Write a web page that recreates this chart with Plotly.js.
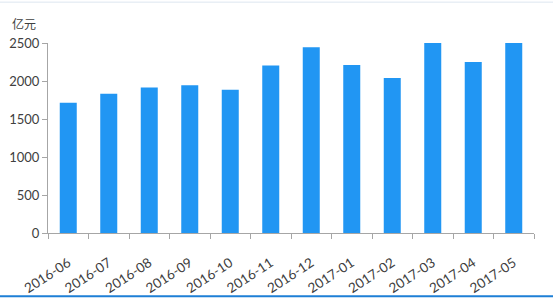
<!DOCTYPE html>
<html>
<head>
<meta charset="utf-8">
<script src="https://cdn.plot.ly/plotly-3.0.1.min.js"></script>
<style>html,body{margin:0;padding:0;background:#fff;}#chart{width:553px;height:298px;}</style>
</head>
<body>
<div id="chart"></div>
<script>
const months = ["2016-06","2016-07","2016-08","2016-09","2016-10","2016-11","2016-12","2017-01","2017-02","2017-03","2017-04","2017-05"];
const amounts = [1715, 1832, 1915, 1945, 1885, 2205, 2445, 2210, 2040, 2510, 2250, 2500];
const yTicks = [0, 500, 1000, 1500, 2000, 2500];
const unitLabel = "亿元";

const data = [{
  type: "bar",
  x: months,
  y: amounts,
  marker: {color: "#2196f3"},
  hoverinfo: "x+y"
}];

const layout = {
  width: 553, height: 298,
  margin: {l: 48, r: 19, t: 43, b: 65},
  paper_bgcolor: "#ffffff",
  plot_bgcolor: "#ffffff",
  showlegend: false,
  bargap: 0.58,
  font: {family: "Lato, 'Noto Sans CJK SC', sans-serif", size: 13, color: "#404040"},
  xaxis: {
    type: "category",
    showgrid: false,
    showline: true, linecolor: "#a6a6a6", linewidth: 1,
    ticks: "outside", tickson: "boundaries", ticklen: 5, tickcolor: "#a6a6a6",
    tickangle: -33,
    ticklabelstandoff: 16,
    tickfont: {size: 13.5, color: "#404040"},
    automargin: false
  },
  yaxis: {
    range: [0, 2500],
    tickvals: yTicks,
    showgrid: false, zeroline: false,
    showline: true, linecolor: "#a6a6a6", linewidth: 1,
    ticks: "outside", ticklen: 5, tickcolor: "#a6a6a6",
    tickfont: {size: 13, color: "#404040"},
    automargin: false
  },
  annotations: [{
    text: unitLabel, xref: "paper", yref: "paper",
    x: -0.078, y: 1.105, xanchor: "left", yanchor: "middle",
    showarrow: false, font: {size: 12, color: "#404040", family: "'Noto Sans CJK SC', sans-serif"}
  }],
  shapes: [
    {type: "line", xref: "paper", yref: "paper", x0: -0.2, x1: 1.2, y0: -0.333, y1: -0.333, line: {color: "#1e7fd6", width: 2}},
    {type: "line", xref: "paper", yref: "paper", x0: -0.2, x1: 1.2, y0: 1.215, y1: 1.215, line: {color: "#dde6f0", width: 1}}
  ]
};

Plotly.newPlot("chart", data, layout, {displayModeBar: false, staticPlot: true});
</script>
</body>
</html>
